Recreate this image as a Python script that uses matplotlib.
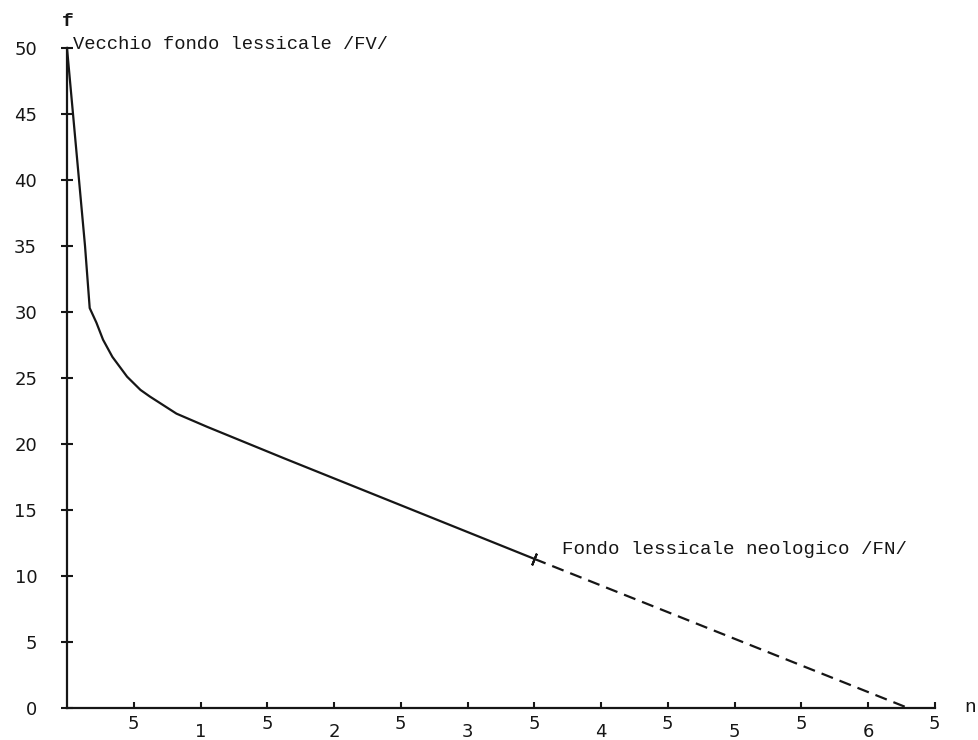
import matplotlib
matplotlib.use("Agg")
import matplotlib.pyplot as plt

# curve: n (x) vs f (y)
fv_n = [0.0, 0.045, 0.09, 0.135, 0.17, 0.22, 0.27, 0.34, 0.45, 0.55, 0.62, 0.82, 1.05, 1.63, 3.5]
fv_f = [50, 45, 40, 35, 30.3, 29.2, 27.9, 26.6, 25.1, 24.1, 23.6, 22.3, 21.3, 18.9, 11.3]
fn_n = [3.5, 6.3]
fn_f = [11.3, 0.0]

y_ticks = list(range(0, 51, 5))
half_ticks = [0.5, 1.5, 2.5, 3.5, 4.5, 5.5, 6.5]
half_labels = ["5"] * len(half_ticks)
int_ticks = [1, 2, 3, 4, 5, 6]
int_labels = ["1", "2", "3", "4", "5", "6"]

ink = "#161616"
mono = "Liberation Mono"

fig = plt.figure(figsize=(9.79, 7.40), dpi=100)
ax = fig.add_axes([67 / 979, 32 / 740, 867.75 / 979, 660 / 740])

ax.plot(fv_n, fv_f, color=ink, lw=1.6, clip_on=False, solid_joinstyle="round")
ax.plot(fn_n, fn_f, color=ink, lw=1.6, linestyle=(0, (5.5, 3.2)), clip_on=False)
ax.plot(fv_n[-1], fv_f[-1], marker=(2, 2, -22), ms=9, mew=1.5, color=ink, clip_on=False)

ax.set_xlim(0, 6.5)
ax.set_ylim(0, 50)

for s in ["top", "right"]:
    ax.spines[s].set_visible(False)
for s in ["left", "bottom"]:
    ax.spines[s].set_linewidth(1.6)
    ax.spines[s].set_color(ink)

ax.set_yticks(y_ticks)
ax.set_yticklabels([str(v) for v in y_ticks], fontsize=13, color=ink)
ax.tick_params(axis="y", direction="inout", length=9, width=1.5, pad=17, colors=ink)

ax.set_xticks(half_ticks)
ax.set_xticklabels(half_labels, fontsize=13, color=ink)
ax.set_xticks(int_ticks, minor=True)
ax.set_xticklabels(int_labels, minor=True, fontsize=13, color=ink)
ax.tick_params(axis="x", which="major", direction="in", length=4, width=1.5, pad=5, colors=ink)
ax.tick_params(axis="x", which="minor", direction="in", length=4, width=1.5, pad=11, colors=ink)

ax.text(0.045, 50.3, "Vecchio fondo lessicale /FV/", family=mono, fontsize=13.5,
        color=ink, va="center", ha="left")
ax.text(3.71, 12.0, "Fondo lessicale neologico /FN/", family=mono, fontsize=13.8,
        color=ink, va="center", ha="left")
ax.text(-0.04, 52.0, "f", family=mono, fontsize=14, weight="bold", color=ink,
        va="center", ha="left", clip_on=False)
ax.text(6.72, 0.0, "n", family=mono, fontsize=14, color=ink, va="center", ha="left",
        clip_on=False)

fig.savefig("out.png", dpi=100, facecolor="white")
